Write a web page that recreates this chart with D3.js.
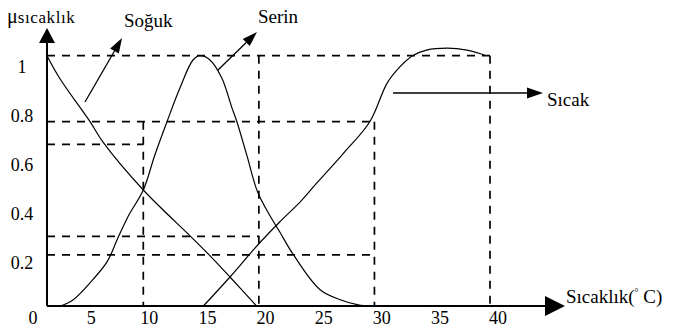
<!DOCTYPE html>
<html><head><meta charset="utf-8">
<script src="https://cdn.jsdelivr.net/npm/d3@7"></script>
<style>
body{margin:0;background:#fff}
svg text{font-family:"Liberation Serif","Times New Roman",Times,"DejaVu Serif",serif;fill:#000}
</style>
</head><body>
<svg id="c" width="675" height="333"></svg>
<script>
// ---- data ----
const xTicks = [0, 5, 10, 15, 20, 25, 30, 35, 40];
const yTicks = [0.2, 0.4, 0.6, 0.8, 1];
const yTickLabels = ["0.2", "0.4", "0.6", "0.8", "1"];

const sogukX = [0, 1.35, 4.47, 5.82, 10, 14.2, 15.8, 17.5, 19.8];
const sogukY = [1, 0.93, 0.8, 0.71, 0.5, 0.295, 0.215, 0.125, 0];

const serinX = [1.4, 2.7, 4.47, 6.23, 7.37, 8.5, 10, 11.0, 12.05, 13.17, 14.3, 14.9, 15.77, 16.8, 17.67, 18.1, 18.95, 19.9, 20.95, 21.8, 23.0, 25.3, 27.1, 28.6, 29.7];
const serinY = [0, 0.026, 0.1, 0.19, 0.294, 0.392, 0.5, 0.654, 0.8, 0.902, 0.987, 1.0, 0.987, 0.932, 0.842, 0.8, 0.654, 0.49, 0.39, 0.32, 0.22, 0.07, 0.026, 0.005, 0];

const sicakX = [15.2, 17.5, 19.9, 21.8, 23.6, 25.0, 27.3, 29.6, 31.1, 32.2, 33.3, 34.5, 36.3, 38.0, 39.7];
const sicakY = [0, 0.125, 0.263, 0.362, 0.45, 0.53, 0.66, 0.8, 0.917, 0.966, 1.0, 1.017, 1.023, 1.017, 1.0];

// guide lines (dashed): horizontal from the axis to x, vertical from y down to the axis
const guideHy = [1, 0.8, 0.7, 0.3, 0.22];
const guideHx = [40, 30, 10, 20, 30];
const guideVx = [10, 20, 30, 40];
const guideVy = [0.8, 1, 0.8, 1];

const seriesNames = ["Soğuk", "Serin", "Sıcak"];

// ---- scales ----
const svg = d3.select("#c");
const x = d3.scaleLinear().domain([0, 10, 40]).range([47, 143.3, 490]);
const y = d3.scaleLinear().domain([0, 0.5, 0.8, 1]).range([306, 190, 121.7, 55.7]);
const xLab = d3.scaleLinear().domain([0, 40]).range([33, 498]);
const yLab = d3.scaleLinear().domain([0, 1]).range([312, 67]);

// ---- dashed guides ----
const g = svg.append("g").attr("stroke", "#000").attr("stroke-width", 1.7)
  .attr("stroke-dasharray", "8,7").attr("fill", "none");
guideHy.forEach((v, i) => {
  g.append("line").attr("x1", x(0)).attr("x2", x(guideHx[i]))
    .attr("y1", y(v)).attr("y2", y(v));
});
guideVx.forEach((v, i) => {
  g.append("line").attr("x1", x(v)).attr("x2", x(v))
    .attr("y1", y(guideVy[i])).attr("y2", y(0));
});

// ---- curves ----
const line = d3.line().x(d => x(d[0])).y(d => y(d[1])).curve(d3.curveCatmullRom.alpha(0.5));
[[sogukX, sogukY], [serinX, serinY], [sicakX, sicakY]].forEach(([xs, ys]) => {
  svg.append("path").datum(xs.map((v, i) => [v, ys[i]]))
    .attr("d", line).attr("fill", "none").attr("stroke", "#000").attr("stroke-width", 1.2);
});

// ---- axes ----
svg.append("line").attr("x1", x(0)).attr("x2", 547).attr("y1", y(0)).attr("y2", y(0))
  .attr("stroke", "#000").attr("stroke-width", 2);
svg.append("path").attr("d", `M545,${y(0) - 10}L565,${y(0)}L545,${y(0) + 10}Z`).attr("fill", "#000");
svg.append("line").attr("x1", x(0)).attr("x2", x(0)).attr("y1", y(0)).attr("y2", 42)
  .attr("stroke", "#000").attr("stroke-width", 2);
svg.append("path").attr("d", `M${x(0)},28L${x(0) + 8},43L${x(0) - 8},43Z`).attr("fill", "#000");

// tick labels
svg.selectAll(".xl").data(xTicks).enter().append("text")
  .attr("x", d => xLab(d)).attr("y", 324).attr("text-anchor", "middle")
  .attr("font-size", 18).text(d => d);
svg.selectAll(".yl").data(yTicks).enter().append("text")
  .attr("x", 22).attr("y", d => yLab(d) + 6).attr("text-anchor", "middle")
  .attr("font-size", 18).text((d, i) => yTickLabels[i]);

// axis titles
const mu = svg.append("text").attr("x", 7).attr("y", 23).attr("font-size", 16);
mu.append("tspan").attr("font-size", 20).text("μ");
mu.append("tspan").attr("font-size", 17).attr("letter-spacing", 0.6).text("sıcaklık");

const xt = svg.append("text").attr("x", 566).attr("y", 303).attr("font-size", 19);
xt.append("tspan").text("Sıcaklık(");
xt.append("tspan").attr("font-size", 10).attr("dy", -7).text("°");
xt.append("tspan").attr("dy", 7).text(" C)");

// ---- series annotations ----
function arrow(x1, y1, x2, y2, len, wid) {
  const a = Math.atan2(y2 - y1, x2 - x1);
  const bx = x2 - len * Math.cos(a), by = y2 - len * Math.sin(a);
  const px = -Math.sin(a) * wid / 2, py = Math.cos(a) * wid / 2;
  svg.append("line").attr("x1", x1).attr("y1", y1).attr("x2", bx).attr("y2", by)
    .attr("stroke", "#000").attr("stroke-width", 1.3);
  svg.append("path").attr("d", `M${x2},${y2}L${bx + px},${by + py}L${bx - px},${by - py}Z`).attr("fill", "#000");
}
arrow(85, 102, 122, 38, 15, 10);
arrow(218, 70, 257, 32, 15, 10);
arrow(393, 93, 543, 93, 16, 11);

svg.append("text").attr("x", 124).attr("y", 27).attr("font-size", 19).text(seriesNames[0]);
svg.append("text").attr("x", 258).attr("y", 23).attr("font-size", 19).text(seriesNames[1]);
svg.append("text").attr("x", 547).attr("y", 106).attr("font-size", 19).text(seriesNames[2]);
</script>
</body></html>
